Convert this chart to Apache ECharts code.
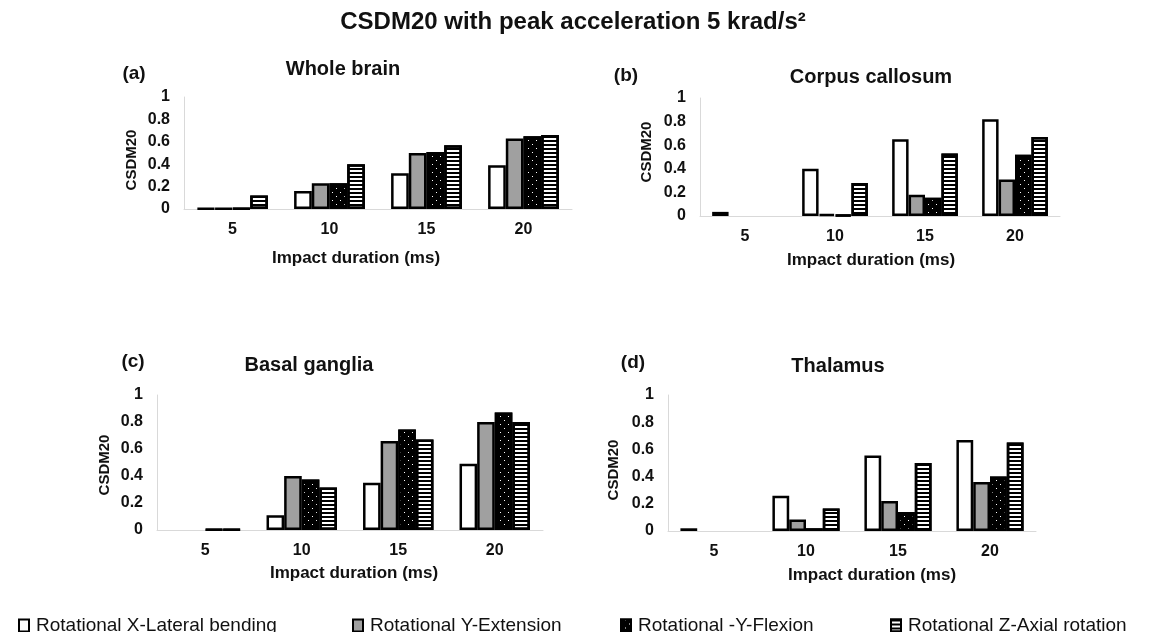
<!DOCTYPE html>
<html>
<head>
<meta charset="utf-8">
<script src="https://cdn.jsdelivr.net/npm/echarts@6/dist/echarts.min.js"></script>
<style>
  html, body { margin: 0; padding: 0; background: #fff; }
  #chart { width: 1151px; height: 632px; }
</style>
</head>
<body>
<div id="chart"></div>
<script>
// Impact durations (ms)
const categories = ['5', '10', '15', '20'];
const seriesNames = [
  'Rotational X-Lateral bending',
  'Rotational Y-Extension',
  'Rotational -Y-Flexion',
  'Rotational Z-Axial rotation'
];
const yTicks = [0, 0.2, 0.4, 0.6, 0.8, 1];

// CSDM20 per region, one array per rotation direction
const wholeBrainX  = [0.005, 0.16, 0.32, 0.39];
const wholeBrainY  = [0.005, 0.23, 0.50, 0.63];
const wholeBrainNY = [0.005, 0.23, 0.51, 0.65];
const wholeBrainZ  = [0.12, 0.40, 0.57, 0.66];

const corpusX  = [0.035, 0.40, 0.65, 0.82];
const corpusY  = [0, 0.015, 0.18, 0.31];
const corpusNY = [0, 0.01, 0.155, 0.52];
const corpusZ  = [0, 0.28, 0.53, 0.67];

const basalX  = [0, 0.11, 0.35, 0.49];
const basalY  = [0, 0.40, 0.66, 0.80];
const basalNY = [0.005, 0.375, 0.745, 0.87];
const basalZ  = [0.005, 0.315, 0.67, 0.80];

const thalamusX  = [0.02, 0.26, 0.555, 0.67];
const thalamusY  = [0, 0.085, 0.22, 0.36];
const thalamusNY = [0, 0.02, 0.14, 0.40];
const thalamusZ  = [0, 0.165, 0.50, 0.65];

const panelTitles = ['Whole brain', 'Corpus callosum', 'Basal ganglia', 'Thalamus'];
const panelTags = ['(a)', '(b)', '(c)', '(d)'];
const panelData = [
  [wholeBrainX, wholeBrainY, wholeBrainNY, wholeBrainZ],
  [corpusX, corpusY, corpusNY, corpusZ],
  [basalX, basalY, basalNY, basalZ],
  [thalamusX, thalamusY, thalamusNY, thalamusZ]
];

const FONT = '"Liberation Sans", Arial, sans-serif';

// Plot rectangles of the four panels
const grids = [
  { left: 184, right: 579, top: 97, bottom: 423 },
  { left: 700, right: 91, top: 98, bottom: 416 },
  { left: 157, right: 608, top: 395, bottom: 102 },
  { left: 668, right: 115, top: 395, bottom: 101 }
];

// Fill patterns: plain white, grey, black with white dots, horizontal stripes
const styles = [
  { color: '#ffffff' },
  { color: '#a0a0a0' },
  { color: '#000000', decal: {
      symbol: 'rect', symbolSize: 1, color: '#ffffff',
      dashArrayX: [[1, 7], [0, 4, 1, 3]], dashArrayY: [1, 3], rotation: 0 } },
  { color: '#ffffff', decal: {
      symbol: 'rect', symbolSize: 1, color: '#000000',
      dashArrayX: [1, 0], dashArrayY: [2, 2], rotation: 0 } }
];

const xAxes = [], yAxes = [], series = [];
grids.forEach((g, i) => {
  xAxes.push({
    type: 'category', gridIndex: i, data: categories,
    axisLine: { lineStyle: { color: '#d9d9d9', width: 1 } },
    axisTick: { show: false },
    axisLabel: { color: '#111', fontSize: 16, fontWeight: 'bold', fontFamily: FONT, margin: 13 }
  });
  yAxes.push({
    type: 'value', gridIndex: i, min: yTicks[0], max: yTicks[yTicks.length - 1], interval: 0.2,
    axisLine: { show: true, lineStyle: { color: '#d9d9d9', width: 1 } },
    axisTick: { show: false },
    splitLine: { show: false },
    axisLabel: { color: '#111', fontSize: 16, fontWeight: 'bold', fontFamily: FONT, margin: 14,
                 formatter: v => String(+v.toFixed(1)) }
  });
  panelData[i].forEach((vals, s) => {
    series.push({
      type: 'bar', name: seriesNames[s], xAxisIndex: i, yAxisIndex: i,
      barGap: '0%', barCategoryGap: '27%',
      itemStyle: Object.assign({ borderColor: '#000', borderWidth: 2.5 }, styles[s]),
      emphasis: { disabled: true },
      data: vals.map(v => v === 0 ? { value: 0, itemStyle: { borderWidth: 0 } } : v)
    });
  });
});

// Legend entries sit at fixed positions along the bottom
const legendLefts = [13, 347, 615, 885];
const legends = seriesNames.map((n, i) => ({
  data: [n], left: legendLefts[i], top: 611, orient: 'horizontal',
  icon: 'rect', itemWidth: 10, itemHeight: 12, selectedMode: false,
  itemStyle: { borderWidth: 2, borderColor: '#000' },
  textStyle: { color: '#111', fontSize: 19, fontFamily: FONT, padding: [0, 0, 0, 2] }
}));

function txt(x, y, text, size, extra) {
  return Object.assign({
    type: 'text', x: x, y: y, silent: true,
    style: { text: text, fill: '#111', font: 'bold ' + size + 'px ' + FONT,
             textAlign: 'center', textVerticalAlign: 'middle' }
  }, extra || {});
}

const tagPos = [[134, 74], [626, 76], [133, 362], [633, 363]];
const titlePos = [[343, 69], [871, 77], [309, 365], [838, 366]];
const xNamePos = [[356, 258], [871, 260], [354, 573], [872, 575]];
const yNamePos = [[132, 160], [647, 152], [105, 465], [614, 470]];

const graphics = [txt(573, 22, 'CSDM20 with peak acceleration 5 krad/s\u00B2', 24)];
for (let i = 0; i < 4; i++) {
  graphics.push(txt(tagPos[i][0], tagPos[i][1], panelTags[i], 19));
  graphics.push(txt(titlePos[i][0], titlePos[i][1], panelTitles[i], 20));
  graphics.push(txt(xNamePos[i][0], xNamePos[i][1], 'Impact duration (ms)', 17));
  graphics.push(txt(yNamePos[i][0], yNamePos[i][1], 'CSDM20', 15, { rotation: Math.PI / 2 }));
}

const chart = echarts.init(document.getElementById('chart'), null, { renderer: 'canvas' });
chart.setOption({
  animation: false,
  backgroundColor: '#ffffff',
  grid: grids.map(g => Object.assign({ containLabel: false }, g)),
  xAxis: xAxes,
  yAxis: yAxes,
  legend: legends,
  graphic: graphics,
  series: series
});
</script>
</body>
</html>
